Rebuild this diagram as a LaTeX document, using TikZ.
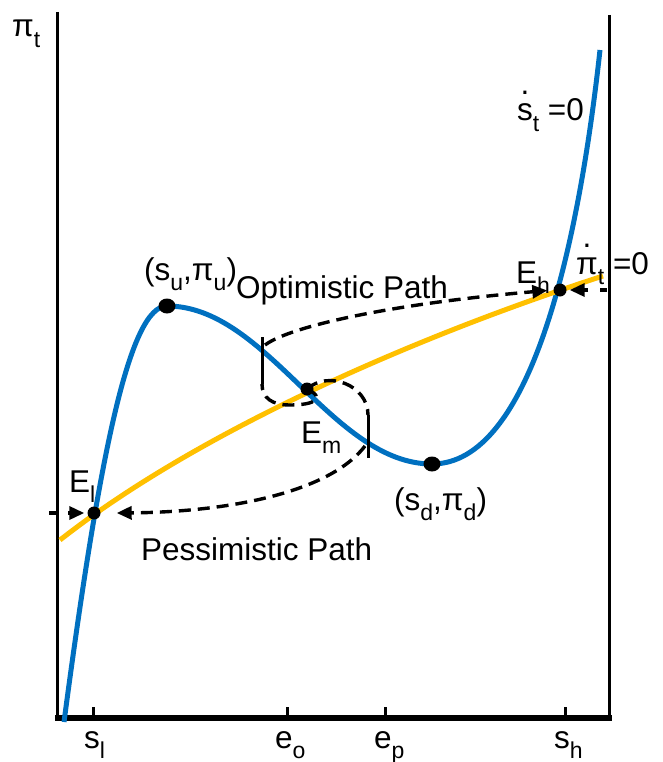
\documentclass[tikz,border=0pt]{standalone}
\usepackage{fontspec}
\setmainfont{Liberation Sans}
\usetikzlibrary{arrows.meta,shapes.geometric}
\definecolor{cblue}{RGB}{0,112,192}
\definecolor{corange}{RGB}{255,192,0}
\newcommand\sbs[1]{\raisebox{-0.32em}{\fontsize{23}{26}\selectfont #1}}
\newcommand\dotac[1]{\setbox0\hbox{#1}\rlap{\hbox to\wd0{\hss\raisebox{0.85em}{.}\hss}}\box0}
\begin{document}
\begin{tikzpicture}[x=1pt,y=-1pt,
  lbl/.style={font=\fontsize{31.5}{36}\selectfont, inner sep=0pt, anchor=base west},
  axisv/.style={line width=3pt},
  axish/.style={line width=5.5pt},
  tickm/.style={line width=3pt},
  bluec/.style={cblue, line width=5pt},
  orangec/.style={corange, line width=5pt},
  dpath/.style={line width=3.4pt, dash pattern=on 12pt off 7pt},
  arr/.style={-{Triangle[length=15pt,width=13pt]}},
  jumpm/.style={line width=3pt},
  edot/.style={circle, fill=black, inner sep=0pt, minimum size=13pt},
  bigdot/.style={ellipse, fill=black, inner sep=0pt, minimum width=17pt, minimum height=15pt}]
\useasboundingbox (0,0) rectangle (663,762);
% axes
\coordinate (ytop) at (57,12);
\coordinate (orig) at (57,718);
\coordinate (rtop) at (609,15);
\coordinate (rbot) at (609,718);
\draw[axisv] (ytop) -- (orig);
\draw[axisv] (rtop) -- (rbot);
\draw[axish] (55,718) -- (612,718);
% ticks
\foreach \x/\n in {93/tsl,287/teo,385/tep,565/tsh}{
  \coordinate (\n) at (\x,718);
  \draw[tickm] (\n) -- ++(0,-11);
}
% curves
\draw[bluec] (64,722) .. controls (100,450) and (130,306) .. (167,306)
   .. controls (267,306) and (332,464) .. (432,464)
   .. controls (530,464) and (578,250) .. (600,50);
\draw[orangec] (60,540) .. controls (200,430) and (420,335) .. (603,276);
% dots
\node[edot] (El) at (94,513) {};
\node[edot] (Em) at (307,389) {};
\node[edot] (Eh) at (560,290) {};
\node[bigdot] (Pu) at (167,306) {};
\node[bigdot] (Pd) at (432,464) {};
% optimistic path
\coordinate (oa) at (262,337);
\coordinate (ob) at (262,384);
\coordinate (oc) at (265,345);
\draw[jumpm] (oa) -- (ob);
\draw[dpath] (Em.center) .. controls (326,398) and (315,405) .. (290,405)
   .. controls (272,405) and (262,398) .. (ob);
\draw[dpath,arr,shorten >=6pt] (oc) .. controls (292,325) and (400,303) .. (Eh.west);
% pessimistic path
\coordinate (pa) at (368,415);
\coordinate (pb) at (368,458);
\coordinate (pc) at (365,446);
\draw[jumpm] (pa) -- (pb);
\draw[dpath] (Em.center) .. controls (328,370) and (368,385) .. (pa);
\draw[dpath,arr] (pc) .. controls (330,492) and (230,512) .. ([xshift=16pt]El.east);
% side arrows
\coordinate (la) at (49,513);
\coordinate (ra) at (607,290);
\draw[dpath,arr,dash pattern=on 7pt off 12pt,shorten >=3pt] (la) -- (El.west);
\draw[dpath,arr,dash pattern=on 7pt off 12pt,shorten >=3pt] (ra) -- (Eh.east);
% labels
\node[lbl] (lpi) at (12,37) {π\sbs{t}};
\node[lbl, anchor=base east] (lsdot) at (584,121) {\dotac{s}\sbs{t} =0};
\node[lbl] (lpidot) at (576,274) {\dotac{π}\sbs{t} =0};
\node[lbl] (lsu) at (144,280) {(s\sbs{u},π\sbs{u})};
\node[lbl] (lopt) at (236,298) {Optimistic Path};
\node[lbl] (lEh) at (516,283) {E\sbs{h}};
\node[lbl] (lEm) at (301,443) {E\sbs{m}};
\node[lbl] (lsd) at (394,510) {(s\sbs{d},π\sbs{d})};
\node[lbl] (lEl) at (69,492) {E\sbs{l}};
\node[lbl] (lpes) at (141,560) {Pessimistic Path};
\node[lbl] (lsl) at (84,748) {s\sbs{l}};
\node[lbl] (leo) at (275,748) {e\sbs{o}};
\node[lbl] (lep) at (374,748) {e\sbs{p}};
\node[lbl] (lsh) at (554,748) {s\sbs{h}};
\end{tikzpicture}
\end{document}
